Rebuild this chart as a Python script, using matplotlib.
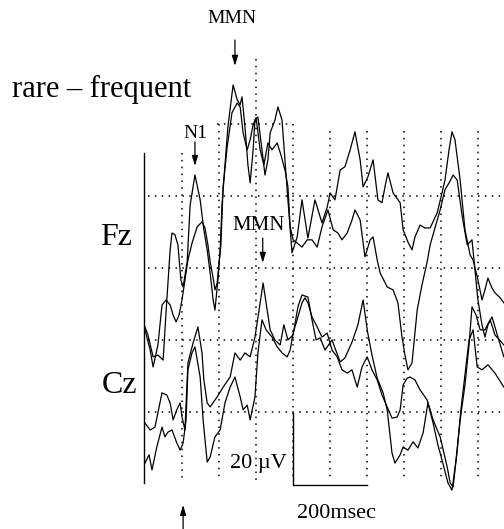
import matplotlib
matplotlib.use("Agg")
import matplotlib.pyplot as plt

plt.rcParams['font.family'] = ['Liberation Serif', 'DejaVu Serif']

# difference waves (rare - frequent), time in ms, amplitude in uV (negative up)
fz_a_t = [-100, -92, -78, -65, -51, -41, -32, -27, -19, -11, -3, 3, 14, 22, 35, 49, 59, 68, 76, 84,
          89, 97, 103, 108, 116, 124, 138, 149, 157, 162, 170, 178, 184, 192, 197, 205, 216, 224, 232, 238,
          246, 251, 259, 270, 278, 286, 297, 311, 324, 340, 359, 378, 392, 400, 413, 427, 440, 454, 467, 481,
          489, 502, 516, 529, 540, 548, 556, 570, 589, 597, 610, 621, 629, 643, 656, 670, 689, 702, 710, 721,
          729, 737, 751, 764, 778, 786, 799, 810, 818, 826, 837, 845, 859, 869]
fz_a_v = [16.4, 18.6, 24.7, 24.2, 25.6, 8.9, -5.0, -9.7, -9.2, -6.4, 3.3, 5.3, -1.7, -17.5, -25.8, -18.9, -10.6, -5.0, 1.4, 8.9,
          11.7, 3.3, -5.0, -17.5, -28.6, -39.2, -50.8, -46.7, -45.3, -47.5, -39.2, -28.6, -23.6, -32.8, -41.1, -41.9, -32.8, -25.8, -30.0, -37.5,
          -39.7, -41.1, -44.7, -41.1, -30.0, -18.9, -4.2, -8.6, -18.9, -8.3, -18.9, -12.5, -16.9, -20.8, -18.9, -27.2, -28.1, -32.8, -37.8, -30.0,
          -22.5, -25.3, -30.0, -18.9, -18.1, -22.5, -26.4, -20.8, -18.1, -10.6, -7.2, -5.0, -8.6, -11.9, -11.1, -11.1, -15.3, -20.8, -24.4, -32.8,
          -37.8, -35.6, -24.4, -10.6, -3.6, -2.2, 3.3, 8.9, 6.1, 2.8, 5.6, 6.9, 8.3, 9.7]

fz_b_t = [-100, -86, -78, -65, -54, -43, -32, -24, -16, -8, 0, 8, 16, 27, 41, 54, 62, 70, 76, 84,
          89, 95, 100, 105, 111, 122, 135, 149, 157, 165, 176, 184, 192, 200, 211, 221, 232, 243, 257, 267,
          278, 286, 292, 300, 311, 324, 338, 351, 365, 378, 394, 408, 421, 432, 446, 459, 467, 481, 494, 508,
          516, 527, 535, 554, 570, 583, 594, 602, 610, 621, 635, 648, 662, 670, 683, 697, 710, 721, 732, 743,
          756, 770, 783, 791, 799, 810, 818, 826, 837, 853, 869]
fz_b_v = [17.2, 22.8, 27.5, 21.4, 10.3, 8.9, 10.3, 13.1, 15.0, 13.1, 8.9, 3.3, -2.2, -6.9, -11.4, -12.8, -11.1, -6.4, -1.7, 2.8,
          6.1, 4.2, -1.4, -6.4, -22.5, -33.6, -43.1, -45.8, -44.7, -37.5, -32.8, -35.6, -39.7, -41.7, -32.8, -28.6, -34.7, -32.8, -34.7, -31.4,
          -27.2, -22.5, -11.4, -7.8, -6.9, -5.8, -7.8, -7.8, -5.8, -11.4, -16.1, -10.6, -9.7, -7.8, -9.7, -13.3, -16.1, -13.3, -3.1, -7.8,
          -8.6, -2.2, 1.4, 5.3, 6.1, 9.7, 19.2, 24.2, 28.3, 26.4, 11.7, 4.7, -1.7, -6.4, -11.1, -16.1, -21.7, -23.6, -25.8, -24.4,
          -14.7, -6.4, -7.8, 0.6, 8.9, 15.8, 19.2, 15.8, 13.6, 19.2, 24.7]

cz_a_t = [-100, -86, -73, -54, -41, -32, -24, -14, -5, 0, 8, 16, 30, 43, 54, 59, 68, 76, 95, 111,
          130, 143, 157, 170, 184, 197, 211, 219, 230, 238, 251, 265, 275, 286, 300, 313, 324, 340, 351, 362,
          373, 386, 405, 427, 440, 459, 475, 489, 500, 513, 527, 543, 554, 567, 575, 589, 597, 610, 624, 637,
          651, 664, 678, 691, 702, 718, 729, 740, 751, 764, 775, 783, 794, 805, 818, 832, 845, 869]
cz_a_v = [3.1, 5.0, 4.2, -5.3, -4.7, -2.5, 2.2, -0.6, -2.5, 1.4, 5.0, -13.6, -19.2, -23.6, -16.4, -8.9, -2.5, -1.4, -4.2, -6.9,
          -9.7, -16.4, -14.4, -16.4, -15.3, -20.8, -30.3, -35.8, -28.3, -22.8, -20.0, -18.6, -24.2, -20.0, -21.4, -29.2, -32.5, -31.9, -25.6, -20.0,
          -20.6, -17.2, -20.0, -13.9, -15.0, -19.4, -24.2, -31.1, -22.8, -15.8, -9.4, -5.3, -0.6, 11.4, 14.2, 11.9, 9.7, 10.6, 8.3, 10.0,
          5.8, -2.5, 3.1, 9.2, 13.3, 19.7, 21.7, 13.3, 2.2, -7.5, -18.6, -29.2, -26.9, -22.8, -22.8, -25.6, -21.4, -18.6]

cz_b_t = [-100, -89, -81, -68, -54, -46, -38, -27, -14, -5, 3, 11, 16, 27, 35, 49, 57, 68, 76, 89,
          103, 116, 130, 143, 157, 165, 176, 184, 197, 205, 216, 227, 243, 257, 270, 284, 292, 300, 313, 324,
          332, 340, 351, 365, 378, 392, 405, 419, 432, 446, 459, 473, 486, 500, 513, 527, 540, 554, 567, 581,
          589, 597, 608, 616, 629, 643, 662, 678, 697, 716, 724, 732, 743, 753, 764, 775, 786, 797, 810, 826,
          845, 869]
cz_b_v = [14.2, 11.9, 16.1, 9.7, 4.2, 6.9, 5.6, 5.0, 8.6, 10.6, 8.6, 2.2, -11.7, -16.4, -18.1, -9.7, 2.2, 13.9, 12.5, 6.9,
          5.0, -2.5, -6.9, -9.7, -4.2, -0.6, -1.9, 2.2, -4.2, -16.4, -25.6, -22.8, -20.8, -18.1, -16.4, -15.3, -17.2, -21.9, -26.4, -30.3,
          -31.7, -30.3, -26.4, -23.6, -20.8, -21.9, -17.2, -15.3, -11.7, -10.8, -11.7, -6.9, -12.5, -15.3, -11.7, -8.9, -4.7, -1.4, 1.7, 1.4,
          -0.6, -7.5, -9.4, -9.7, -8.9, -6.1, -3.3, 2.2, 6.9, 15.3, 19.7, 20.8, 10.6, -0.6, -10.3, -20.0, -22.8, -12.5, -11.7, -13.1,
          -10.8, -6.9]

CZ_OFFSET = 40  # uV, Cz traces drawn below Fz

# dotted grid
grid_t = [0, 100, 200, 300, 400, 500, 600, 700, 800]
grid_top = [-32, -40, -58, -40, -38, -38, -38, -38, -38]
grid_bottom = 59
grid_levels = [-20, 0, 20, 40]

# scale bar
bar_uv = 20
bar_ms = 200

fig = plt.figure(figsize=(5.04, 5.29), dpi=100)
ax = fig.add_axes([0, 0, 1, 1])
ax.set_xlim(-491.4, 869.4)
ax.set_ylim(72.5, -74.4)
ax.axis('off')

dots = (0, (1, 3.5))
ax.vlines(grid_t, grid_top, grid_bottom, colors='k', linestyles=dots, lw=1.1)
ax.hlines(grid_levels, -92, 870, colors='k', linestyles=dots, lw=1.1)
ax.hlines([-40], 95, 295, colors='k', linestyles=dots, lw=1.1)

# left axis line
ax.plot([-103, -103], [-32, 59.7], color='k', lw=1.0)

ax.plot(fz_a_t, fz_a_v, color='k', lw=0.9)
ax.plot(fz_b_t, fz_b_v, color='k', lw=0.9)
ax.plot(cz_a_t, [v + CZ_OFFSET for v in cz_a_v], color='k', lw=0.9)
ax.plot(cz_b_t, [v + CZ_OFFSET for v in cz_b_v], color='k', lw=0.9)

# scale bar
y0 = CZ_OFFSET + 0.3
ax.plot([300, 300, 300 + bar_ms], [y0, y0 + bar_uv, y0 + bar_uv], color='k', lw=1.0)
ax.text(283, 55.6, '20 µV', fontsize=16, ha='right', va='baseline')
ax.text(310, 69.4, '200msec', fontsize=16, ha='left', va='baseline')

ax.text(-459, -47.5, 'rare – frequent', fontsize=22, ha='left', va='baseline')
ax.text(-178, -6.4, 'Fz', fontsize=23, ha='center', va='baseline')
ax.text(-169, 34.7, 'Cz', fontsize=23, ha='center', va='baseline')
ax.text(135, -68, 'MMN', fontsize=14, ha='center', va='baseline')
ax.text(35, -36.1, 'N1', fontsize=14, ha='center', va='baseline')
ax.text(207, -10.6, 'MMN', fontsize=15, ha='center', va='baseline')

arrow = dict(arrowstyle='-|>,head_width=0.18,head_length=0.6', color='k', lw=0.9,
             shrinkA=0, shrinkB=0, mutation_scale=10)
ax.annotate('', xy=(143, -56.1), xytext=(143, -63.3), arrowprops=arrow)
ax.annotate('', xy=(35, -28.3), xytext=(35, -35), arrowprops=arrow)
ax.annotate('', xy=(218, -1.4), xytext=(218, -8.3), arrowprops=arrow)
ax.annotate('', xy=(3, 65.8), xytext=(3, 73), arrowprops=arrow)

fig.savefig('out.png', dpi=100)
